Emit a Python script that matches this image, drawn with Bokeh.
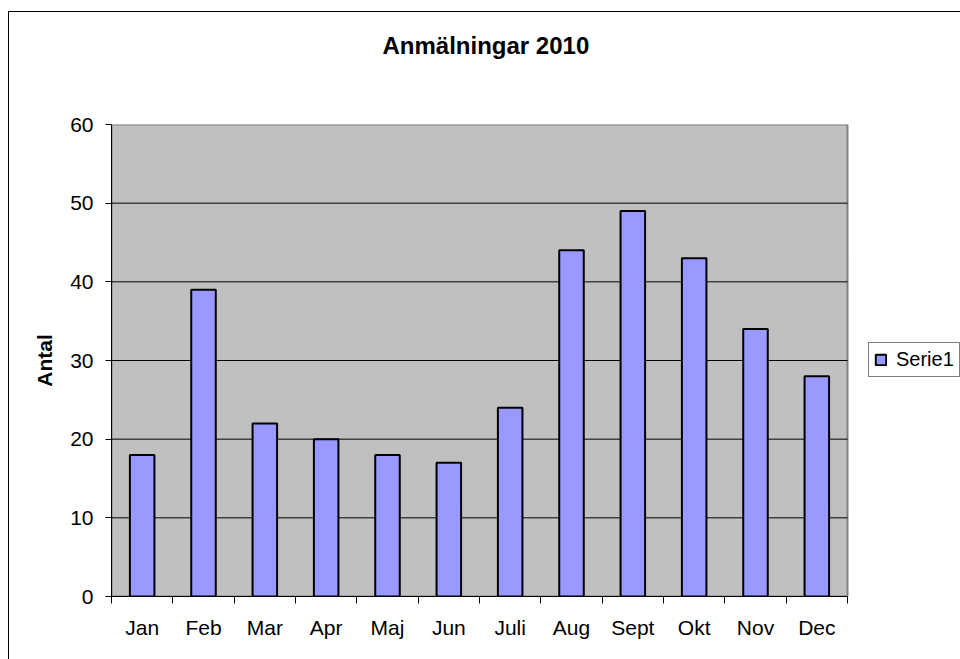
from bokeh.plotting import figure
from bokeh.models import (Range1d, FixedTicker, Title, Legend, LegendItem,
                          ColumnDataSource, CustomJSTickFormatter, InlineStyleSheet)
from bokeh.embed import file_html
from bokeh.resources import INLINE

months = ["Jan", "Feb", "Mar", "Apr", "Maj", "Jun", "Juli", "Aug", "Sept", "Okt", "Nov", "Dec"]
values = [18, 39, 22, 20, 18, 17, 24, 44, 49, 43, 34, 28]
y_ticks = [0, 10, 20, 30, 40, 50, 60]
series_name = "Serie1"
title_text = "Anmälningar 2010"
y_label = "Antal"

FONT = "Liberation Sans"

# layout (pixels): plot area spans x 111..847, y 124..596 of the 960x659 canvas
W, H = 960, 659
LEFT, TOP, BOTTOM = 111, 124, 63
PLOT_W = 736
n = len(months)
x_end = n * (W - LEFT) / PLOT_W     # frame runs to the canvas edge; categories fill PLOT_W

x_pos = [i + 0.5 for i in range(n)]
src = ColumnDataSource(dict(x=x_pos, top=values, month=months))

p = figure(width=W, height=H, output_backend="svg", toolbar_location=None,
           x_range=Range1d(0, x_end), y_range=Range1d(y_ticks[0], y_ticks[-1]),
           min_border_left=LEFT, min_border_right=0, min_border_top=TOP,
           min_border_bottom=BOTTOM)
p.title = None
p.background_fill_color = "white"
p.border_fill_color = "white"
p.outline_line_color = None
p.xgrid.visible = False
p.ygrid.visible = False

# plot area background with grey border
p.quad(left=0, right=n, bottom=y_ticks[0], top=y_ticks[-1],
       fill_color="#c0c0c0", line_color="#808080", line_width=2, level="image")

# horizontal gridlines
p.segment(x0=[0] * len(y_ticks[1:-1]), x1=[n] * len(y_ticks[1:-1]),
          y0=y_ticks[1:-1], y1=y_ticks[1:-1],
          line_color="black", line_width=1, level="underlay")

r = p.vbar(x="x", top="top", bottom=0, width=0.4, source=src,
           fill_color="#9999ff", line_color="black", line_width=2)

# x axis
xa = p.xaxis[0]
xa.bounds = (0, n)
xa.ticker = FixedTicker(ticks=x_pos, minor_ticks=list(range(n + 1)))
xa.formatter = CustomJSTickFormatter(args=dict(labels=months),
                                     code="return labels[Math.floor(tick)];")
xa.major_tick_line_color = None
xa.minor_tick_line_color = "black"
xa.minor_tick_out = 7
xa.minor_tick_in = 0
xa.axis_line_color = "black"
xa.major_label_standoff = 12
xa.major_label_text_font = FONT
xa.major_label_text_font_size = "21px"
xa.major_label_text_color = "black"

# y axis
ya = p.yaxis[0]
ya.ticker = FixedTicker(ticks=y_ticks)
ya.major_tick_out = 6
ya.major_tick_in = 0
ya.major_tick_line_color = "black"
ya.minor_tick_line_color = None
ya.axis_line_color = "black"
ya.major_label_standoff = 12
ya.major_label_text_font = FONT
ya.major_label_text_font_size = "21px"
ya.major_label_text_color = "black"
ya.axis_label = y_label
ya.axis_label_text_font = FONT
ya.axis_label_text_font_size = "21px"
ya.axis_label_text_font_style = "bold"
ya.axis_label_text_color = "black"
ya.axis_label_standoff = 11

# blank (white) spacer next to the plot area, then the title above it
spacer = Title(text=" ", align="left", vertical_align="top", standoff=35,
               text_font=FONT, text_font_size="24px", text_color="white")
p.add_layout(spacer, "above")
title = Title(text=title_text, align="left", offset=271, vertical_align="top", standoff=0,
              text_font=FONT, text_font_size="24px", text_font_style="bold",
              text_color="black")
p.add_layout(title, "above")

# legend, positioned relative to the frame's bottom-left corner
legend = Legend(items=[LegendItem(label=series_name, renderers=[r])],
                location=(757, 219))
legend.border_line_color = "black"
legend.border_line_width = 1
legend.background_fill_color = "white"
legend.background_fill_alpha = 1
legend.glyph_width = 13
legend.glyph_height = 13
legend.padding = 5
legend.margin = 0
legend.spacing = 0
legend.label_standoff = 9
legend.label_height = 20
legend.label_text_font = FONT
legend.label_text_font_size = "20px"
legend.label_text_color = "black"
p.add_layout(legend)

# outer chart border
p.stylesheets = [InlineStyleSheet(css="""
:host { position: relative; }
:host::after {
  content: "";
  position: absolute;
  left: 8px; top: 11px; width: 980px; height: 700px;
  border: 1.5px solid #000;
  pointer-events: none;
}
""")]

open("out.html", "w").write(file_html(p, INLINE))
